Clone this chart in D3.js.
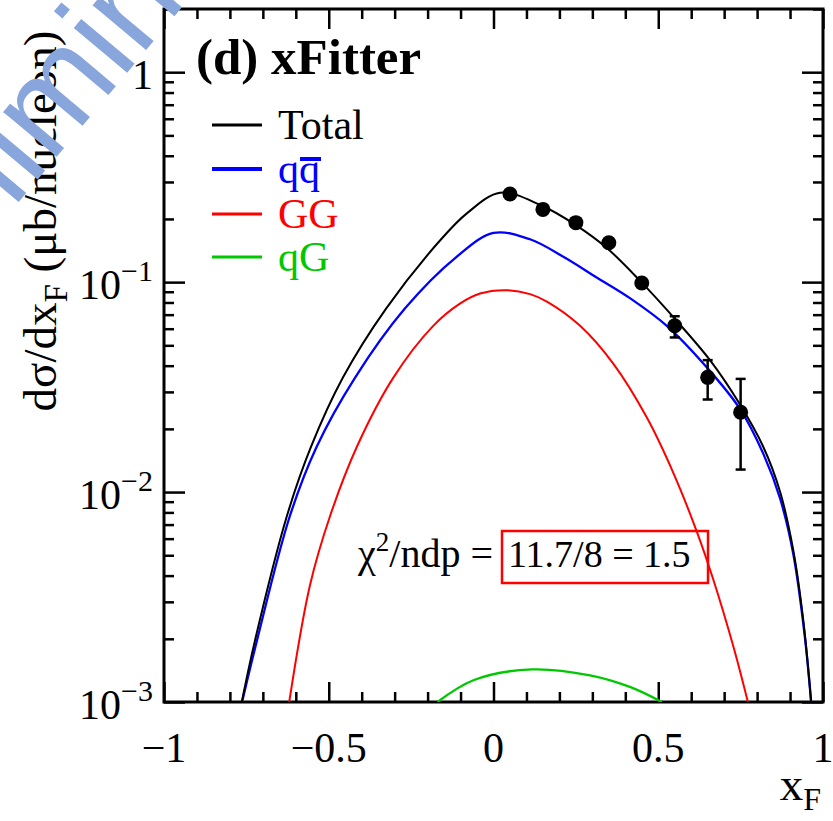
<!DOCTYPE html>
<html>
<head>
<meta charset="utf-8">
<script src="https://cdn.jsdelivr.net/npm/d3@7"></script>
<style>
  body { margin: 0; background: #fff; }
  svg { display: block; }
</style>
</head>
<body>
<div id="chart"></div>
<script>
// values (xF, dsigma/dxF in ub/nucleon)
const totalX = [-0.764, -0.724, -0.627, -0.554, -0.457, -0.326, -0.159, -0.080, 0.020, 0.141, 0.252, 0.344, 0.445, 0.546, 0.657, 0.743, 0.819, 0.870, 0.910, 0.940, 0.964];
const totalY = [0.001, 0.00196, 0.00769, 0.0164, 0.0351, 0.0748, 0.160, 0.2131, 0.2665, 0.2336, 0.186, 0.1454, 0.1014, 0.0681, 0.0425, 0.0269, 0.0164, 0.0100, 0.00526, 0.00246, 0.001];

const qqbarX = [-0.763, -0.718, -0.618, -0.537, -0.420, -0.269, -0.112, 0.0, 0.111, 0.212, 0.313, 0.414, 0.526, 0.647, 0.748, 0.819, 0.870, 0.910, 0.945, 0.964];
const qqbarY = [0.001, 0.00196, 0.00769, 0.0164, 0.0351, 0.0748, 0.132, 0.1715, 0.160, 0.132, 0.1053, 0.0839, 0.0619, 0.0393, 0.0249, 0.0152, 0.00929, 0.00506, 0.00204, 0.001];

const ggX = [-0.620, -0.557, -0.496, -0.415, -0.304, -0.183, -0.102, -0.041, 0.035, 0.111, 0.162, 0.262, 0.364, 0.465, 0.546, 0.617, 0.667, 0.728, 0.772];
const ggY = [0.001, 0.0036, 0.00769, 0.0164, 0.0351, 0.0619, 0.0790, 0.0882, 0.0916, 0.0877, 0.0808, 0.0621, 0.0408, 0.0227, 0.01232, 0.00648, 0.00383, 0.001836, 0.001];

const qgX = [-0.170, -0.061, 0.116, 0.293, 0.414, 0.511];
const qgY = [0.001, 0.00127, 0.00143, 0.00134, 0.00118, 0.001];

const dataX = [0.05, 0.15, 0.25, 0.35, 0.45, 0.55, 0.65, 0.75];
const dataY = [0.263, 0.222, 0.192, 0.154, 0.0990, 0.0620, 0.0352, 0.0240];
const dataErrLo = [0.005, 0.005, 0.005, 0.004, 0.003, 0.0075, 0.0076, 0.0112];
const dataErrHi = [0.005, 0.005, 0.005, 0.004, 0.003, 0.0068, 0.0073, 0.0106];

const xTicks = [-1, -0.5, 0, 0.5, 1];
const xTickLabels = ["\u22121", "\u22120.5", "0", "0.5", "1"];
const yTicks = [1e-3, 1e-2, 1e-1, 1];
const yTickBase = ["10", "10", "10", ""];
const yTickExp = ["\u22123", "\u22122", "\u22121", ""];
const yTickPlain = ["", "", "", "1"];

const seriesNames = ["Total", "qq", "GG", "qG"];
const seriesColors = ["#000000", "#0000ff", "#ff0000", "#00c800"];

const W = 833, H = 821;
const serif = "'Liberation Serif', 'Times New Roman', serif";

const svg = d3.select("#chart").append("svg")
    .attr("width", W)
    .attr("height", H);

svg.append("rect").attr("width", W).attr("height", H).attr("fill", "#fff");

const x = d3.scaleLinear().domain([-1, 1]).range([164, 823]);
const y = d3.scaleLog().domain([1e-3, 2]).range([702, 9]);

const [x0, x1] = x.range();
const [y0, y1] = y.range();

// clip curves to the frame
svg.append("clipPath").attr("id", "plotclip")
    .append("rect")
    .attr("x", x0).attr("y", y1)
    .attr("width", x1 - x0).attr("height", y0 - y1);

// ticks (pointing inward, on all four sides)
const xMinor = d3.range(-10, 11).map(i => i / 10).filter(v => !xTicks.some(t => Math.abs(t - v) < 1e-9));
const yMinor = [];
[1e-3, 1e-2, 1e-1, 1].forEach(d => {
    for (let k = 2; k <= 9; k++) if (k * d <= 2) yMinor.push(k * d);
});

const tickStyle = g => {
    g.select(".domain").remove();
    g.selectAll(".tick line").attr("stroke", "#000").attr("stroke-width", 2.5);
    g.selectAll(".tick text").remove();
};

svg.append("g").attr("transform", `translate(0,${y0})`)
    .call(d3.axisBottom(x).tickValues(xTicks).tickSize(-20)).call(tickStyle);
svg.append("g").attr("transform", `translate(0,${y0})`)
    .call(d3.axisBottom(x).tickValues(xMinor).tickSize(-10)).call(tickStyle);
svg.append("g").attr("transform", `translate(0,${y1})`)
    .call(d3.axisTop(x).tickValues(xTicks).tickSize(-20)).call(tickStyle);
svg.append("g").attr("transform", `translate(0,${y1})`)
    .call(d3.axisTop(x).tickValues(xMinor).tickSize(-10)).call(tickStyle);
svg.append("g").attr("transform", `translate(${x0},0)`)
    .call(d3.axisLeft(y).tickValues(yTicks).tickSize(-21)).call(tickStyle);
svg.append("g").attr("transform", `translate(${x0},0)`)
    .call(d3.axisLeft(y).tickValues(yMinor).tickSize(-10)).call(tickStyle);
svg.append("g").attr("transform", `translate(${x1},0)`)
    .call(d3.axisRight(y).tickValues(yTicks).tickSize(-21)).call(tickStyle);
svg.append("g").attr("transform", `translate(${x1},0)`)
    .call(d3.axisRight(y).tickValues(yMinor).tickSize(-10)).call(tickStyle);

// frame
svg.append("rect")
    .attr("x", x0).attr("y", y1)
    .attr("width", x1 - x0).attr("height", y0 - y1)
    .attr("fill", "none").attr("stroke", "#000").attr("stroke-width", 3);

// x tick labels
svg.append("g").selectAll("text")
    .data(xTicks)
    .join("text")
    .attr("x", d => x(d))
    .attr("y", 762)
    .attr("text-anchor", "middle")
    .attr("font-family", serif)
    .attr("font-size", 42)
    .text((d, i) => xTickLabels[i]);

// y tick labels
const yl = svg.append("g").selectAll("text")
    .data(yTicks)
    .join("text")
    .attr("x", 153)
    .attr("y", d => y(d) + 17)
    .attr("text-anchor", "end")
    .attr("font-family", serif)
    .attr("font-size", 42);
yl.each(function(d, i) {
    const t = d3.select(this);
    if (yTickPlain[i]) { t.text(yTickPlain[i]); return; }
    t.append("tspan").text(yTickBase[i]);
    t.append("tspan").attr("dy", -18).attr("font-size", 30).text(yTickExp[i]);
});

// curves
const line = d3.line()
    .x(d => x(d[0]))
    .y(d => y(d[1]))
    .curve(d3.curveCatmullRom.alpha(0.5));

const curves = [
    { xs: totalX, ys: totalY, color: seriesColors[0], w: 2 },
    { xs: qqbarX, ys: qqbarY, color: seriesColors[1], w: 2.3 },
    { xs: ggX, ys: ggY, color: seriesColors[2], w: 2 },
    { xs: qgX, ys: qgY, color: seriesColors[3], w: 2.3 }
];

const curveG = svg.append("g").attr("clip-path", "url(#plotclip)");
// green, red, blue first so black sits on top like the reference
[3, 2, 1, 0].forEach(i => {
    const c = curves[i];
    curveG.append("path")
        .datum(c.xs.map((v, j) => [v, c.ys[j]]))
        .attr("d", line)
        .attr("fill", "none")
        .attr("stroke", c.color)
        .attr("stroke-width", c.w);
});

// data points with error bars
const pts = dataX.map((v, i) => ({ x: v, y: dataY[i], lo: dataY[i] - dataErrLo[i], hi: dataY[i] + dataErrHi[i] }));
const markerR = 7.5;
const ptG = svg.append("g");
pts.forEach(p => {
    const cx = x(p.x), cy = y(p.y), top = y(p.hi), bot = y(p.lo);
    ptG.append("line").attr("x1", cx).attr("x2", cx).attr("y1", top).attr("y2", bot)
        .attr("stroke", "#000").attr("stroke-width", 2.5);
    if (cy - top > markerR) {
        ptG.append("line").attr("x1", cx - 5).attr("x2", cx + 5).attr("y1", top).attr("y2", top)
            .attr("stroke", "#000").attr("stroke-width", 2.5);
    }
    if (bot - cy > markerR) {
        ptG.append("line").attr("x1", cx - 5).attr("x2", cx + 5).attr("y1", bot).attr("y2", bot)
            .attr("stroke", "#000").attr("stroke-width", 2.5);
    }
    ptG.append("circle").attr("cx", cx).attr("cy", cy).attr("r", markerR).attr("fill", "#000");
});

// title
svg.append("text")
    .attr("x", 196).attr("y", 74)
    .attr("font-family", serif)
    .attr("font-weight", "bold")
    .attr("font-size", 51)
    .text("(d) xFitter");

// legend
const legendY = [125, 169, 214, 257];
const lg = svg.append("g");
seriesNames.forEach((name, i) => {
    lg.append("line")
        .attr("x1", 212).attr("x2", 262)
        .attr("y1", legendY[i]).attr("y2", legendY[i])
        .attr("stroke", seriesColors[i])
        .attr("stroke-width", i === 1 ? 4 : 3);
    const t = lg.append("text")
        .attr("x", 278).attr("y", legendY[i] + 14)
        .attr("font-family", serif)
        .attr("font-size", 42)
        .attr("fill", seriesColors[i])
        .text(name);
    if (i === 1) {
        // bar over the second q
        const node = t.node();
        const sx = node.getStartPositionOfChar(1).x;
        const ex = node.getEndPositionOfChar(1).x;
        lg.append("line")
            .attr("x1", sx + 1).attr("x2", ex + 1)
            .attr("y1", legendY[i] - 10).attr("y2", legendY[i] - 10)
            .attr("stroke", seriesColors[i]).attr("stroke-width", 4);
    }
});

// chi2 annotation
const chi = svg.append("text")
    .attr("x", 358).attr("y", 567)
    .attr("font-family", serif)
    .attr("font-size", 40);
chi.append("tspan").text("\u03c7");
chi.append("tspan").attr("dy", -16).attr("font-size", 27).text("2");
chi.append("tspan").attr("dy", 16).text("/ndp =");

svg.append("rect")
    .attr("x", 502).attr("y", 531)
    .attr("width", 206).attr("height", 52)
    .attr("fill", "none").attr("stroke", "#ff0000").attr("stroke-width", 2.5);
svg.append("text")
    .attr("x", 508).attr("y", 567)
    .attr("font-family", serif)
    .attr("font-size", 38)
    .text("11.7/8 = 1.5");

// axis titles
const xt = svg.append("text")
    .attr("x", 821).attr("y", 800)
    .attr("text-anchor", "end")
    .attr("font-family", serif)
    .attr("font-size", 47);
xt.append("tspan").text("x");
xt.append("tspan").attr("dy", 10).attr("font-size", 32).text("F");

const ytl = svg.append("text")
    .attr("transform", "translate(56,221) rotate(-90)")
    .attr("text-anchor", "middle")
    .attr("font-family", serif)
    .attr("font-size", 47);
ytl.append("tspan").text("d\u03c3/dx");
ytl.append("tspan").attr("dy", 11).attr("font-size", 33).text("F");
ytl.append("tspan").attr("dy", -11).text(" (\u03bcb/nucleon)");

// watermark stamp in the corner
svg.append("text")
    .attr("transform", "translate(-119,366) rotate(-50)")
    .attr("font-family", "'Liberation Sans', Arial, sans-serif")
    .attr("font-size", 132)
    .attr("fill", "#88a6dc")
    .text("Preliminary");
</script>
</body>
</html>
